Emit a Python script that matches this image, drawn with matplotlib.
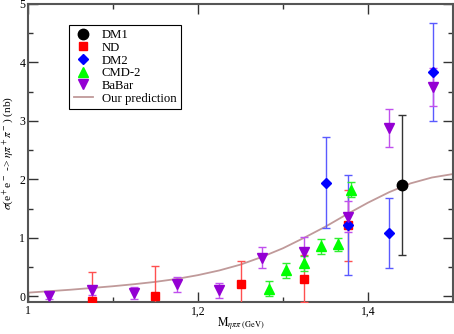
import matplotlib
matplotlib.use("Agg")
import matplotlib.pyplot as plt
from matplotlib.ticker import MultipleLocator
from matplotlib.lines import Line2D

plt.rcParams['font.family'] = ['Liberation Serif', 'DejaVu Serif']
plt.rcParams['mathtext.fontset'] = 'stix'

# DM1
dm1_x = [1.44]
dm1_y = [1.90]
dm1_e = [1.20]

# ND
nd_x = [1.075, 1.15, 1.25, 1.325, 1.376]
nd_y = [-0.09, 0.00, 0.21, 0.30, 1.21]
nd_e = [0.50, 0.51, 0.40, 0.40, 0.60]

# DM2
dm2_x = [1.350, 1.376, 1.425, 1.476]
dm2_y = [1.94, 1.22, 1.08, 3.83]
dm2_e = [0.78, 0.85, 0.60, 0.84]

# CMD-2
cmd_x = [1.284, 1.304, 1.325, 1.345, 1.365, 1.380]
cmd_y = [0.125, 0.44, 0.56, 0.85, 0.89, 1.82]
cmd_e = [0.13, 0.13, 0.13, 0.12, 0.11, 0.13]

# BaBar
bb_x = [1.025, 1.075, 1.125, 1.175, 1.225, 1.275, 1.325, 1.376, 1.425, 1.476]
bb_y = [0.00, 0.10, 0.05, 0.20, 0.10, 0.66, 0.76, 1.36, 2.88, 3.58]
bb_e = [0.05, 0.08, 0.10, 0.13, 0.13, 0.18, 0.25, 0.27, 0.33, 0.33]

# Our prediction
pred_x = [1.0, 1.025, 1.05, 1.075, 1.1, 1.125, 1.15, 1.175, 1.2, 1.225, 1.25,
          1.275, 1.3, 1.325, 1.35, 1.375, 1.4, 1.425, 1.45, 1.475, 1.5]
pred_y = [0.06, 0.085, 0.11, 0.14, 0.17, 0.205, 0.245, 0.295, 0.36, 0.44, 0.54,
          0.67, 0.82, 1.00, 1.19, 1.40, 1.60, 1.78, 1.93, 2.03, 2.09]

x_ticks = [1.0, 1.2, 1.4]
x_ticklabels = ['1', '1,2', '1,4']

fig = plt.figure(figsize=(4.54, 3.34), dpi=100)
ax = fig.add_axes([28/454, 1-302/334, 425/454, 298/334])

pred_color = '#c09a9a'
ax.plot(pred_x, pred_y, color=pred_color, lw=1.3, zorder=2)

series = [
    ('DM1', dm1_x, dm1_y, dm1_e, 'o', 'black', '#333333', 7.5),
    ('ND', nd_x, nd_y, nd_e, 's', '#ff0000', '#ff5050', 6),
    ('DM2', dm2_x, dm2_y, dm2_e, 'D', '#0000ff', '#5a5aff', 5.5),
    ('CMD-2', cmd_x, cmd_y, cmd_e, '^', '#00ff00', '#30ee30', 7),
    ('BaBar', bb_x, bb_y, bb_e, 'v', '#9400d3', '#c050ee', 7),
]
handles = []
labels = []
for name, xs, ys, es, mk, c, ec, ms in series:
    ax.errorbar(xs, ys, yerr=es, fmt=mk, color=c, ecolor=ec, ms=ms,
                capsize=3.2, elinewidth=1.0, capthick=1.0, ls='none', zorder=3)
    handles.append(Line2D([], [], ls='none', marker=mk, color=c, ms=ms))
    labels.append(name)
handles.append(Line2D([], [], color=pred_color, lw=1.3))
labels.append('Our prediction')

ax.set_xlim(1.0, 1.5)
ax.set_ylim(-0.1, 5.0)
ax.set_xticks(x_ticks)
ax.set_xticklabels(x_ticklabels)
ax.xaxis.set_minor_locator(MultipleLocator(0.1))
ax.yaxis.set_major_locator(MultipleLocator(1))
ax.yaxis.set_minor_locator(MultipleLocator(0.5))
ax.tick_params(which='both', direction='in', top=True, right=True, labelsize=8.5,
               color='#333333')
ax.tick_params(which='major', length=7, width=1, pad=2.5)
ax.tick_params(which='minor', length=3.5, width=1)
ax.tick_params(axis='y', pad=2)

for s in ax.spines.values():
    s.set_color('#555555')
    s.set_linewidth(1.5)

ax.set_xlabel(r'$\mathrm{M}_{\eta\pi\pi\ \mathrm{(GeV)}}$', fontsize=8.5, labelpad=-1)
ax.set_ylabel(r'$\sigma$(e$^+$e$^-$ -> $\eta\pi^+\pi^-$) (nb)', fontsize=8.2, labelpad=2)

leg = ax.legend(handles, labels, loc='upper left',
                bbox_to_anchor=(0.097, 0.93), fontsize=9.2, frameon=True,
                fancybox=False, edgecolor='black', framealpha=1,
                handlelength=1.5, handletextpad=0.7, labelspacing=0.05,
                borderpad=0.35, borderaxespad=0)
leg.get_frame().set_linewidth(0.8)

fig.savefig('out.png', dpi=100)
